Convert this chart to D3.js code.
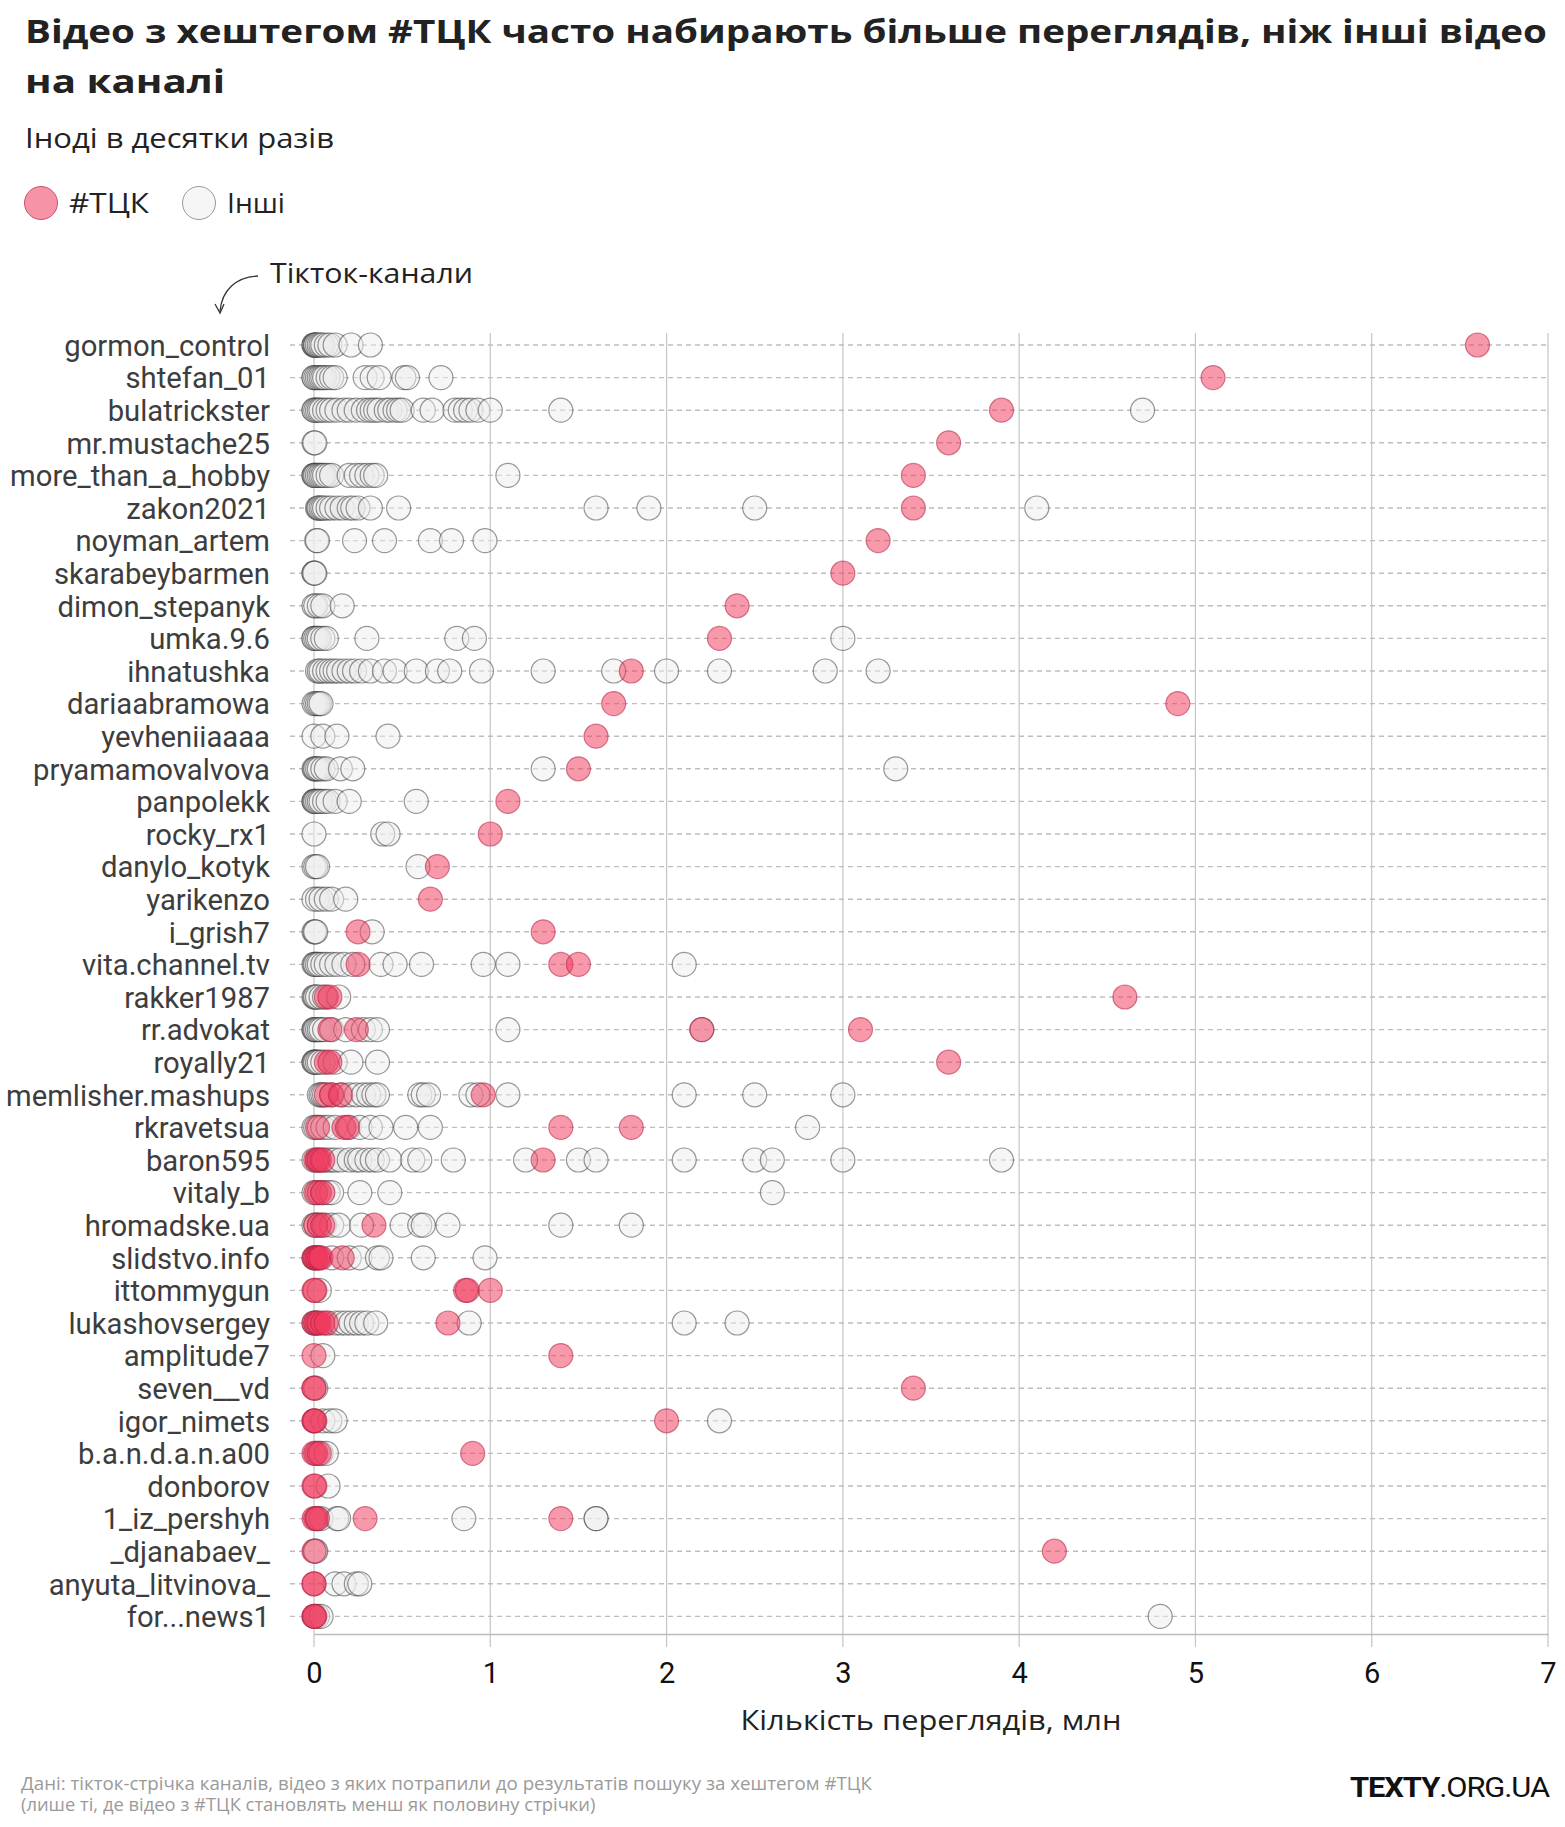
<!DOCTYPE html>
<html>
<head>
<meta charset="utf-8">
<script src="https://cdn.jsdelivr.net/npm/d3@7"></script>
<style>
  html, body { margin: 0; padding: 0; background: #fff; }
  svg { display: block; font-family: Roboto, "Open Sans", sans-serif; }
</style>
</head>
<body>
<svg id="chart" width="1565" height="1827"></svg>
<script>
// ---------- DATA ----------
const channels = [
  "gormon_control", "shtefan_01", "bulatrickster", "mr.mustache25", "more_than_a_hobby",
  "zakon2021", "noyman_artem", "skarabeybarmen", "dimon_stepanyk", "umka.9.6",
  "ihnatushka", "dariaabramowa", "yevheniiaaaa", "pryamamovalvova", "panpolekk",
  "rocky_rx1", "danylo_kotyk", "yarikenzo", "i_grish7", "vita.channel.tv",
  "rakker1987", "rr.advokat", "royally21", "memlisher.mashups", "rkravetsua",
  "baron595", "vitaly_b", "hromadske.ua", "slidstvo.info", "ittommygun",
  "lukashovsergey", "amplitude7", "seven__vd", "igor_nimets", "b.a.n.d.a.n.a00",
  "donborov", "1_iz_pershyh", "_djanabaev_", "anyuta_litvinova_", "for...news1"
];

// views (millions) of videos WITHOUT the #ТЦК hashtag, per channel
const otherViews = [
  [0, 0, 0.005, 0.01, 0.01, 0.02, 0.03, 0.04, 0.05, 0.07, 0.09, 0.12, 0.21, 0.32],
  [0, 0, 0.01, 0.02, 0.03, 0.04, 0.05, 0.06, 0.08, 0.1, 0.12, 0.29, 0.33, 0.37, 0.51, 0.53, 0.72],
  [0, 0, 0.01, 0.02, 0.03, 0.04, 0.06, 0.08, 0.1, 0.13, 0.17, 0.2, 0.24, 0.28, 0.31, 0.33, 0.35, 0.37, 0.41, 0.43, 0.46, 0.48, 0.5, 0.62, 0.67, 0.8, 0.83, 0.86, 0.89, 0.93, 1.0, 1.4, 4.7],
  [0, 0.005],
  [0, 0, 0.005, 0.01, 0.02, 0.03, 0.04, 0.05, 0.06, 0.08, 0.1, 0.2, 0.24, 0.27, 0.3, 0.33, 0.35, 1.1],
  [0.02, 0.025, 0.03, 0.04, 0.05, 0.06, 0.08, 0.1, 0.13, 0.16, 0.2, 0.22, 0.25, 0.32, 0.48, 1.6, 1.9, 2.5, 4.1],
  [0.015, 0.02, 0.23, 0.4, 0.66, 0.78, 0.97],
  [0, 0, 0.005],
  [0, 0.01, 0.03, 0.05, 0.16],
  [0, 0, 0.01, 0.02, 0.03, 0.05, 0.07, 0.3, 0.81, 0.91, 3.0],
  [0.02, 0.03, 0.04, 0.06, 0.08, 0.1, 0.12, 0.14, 0.17, 0.2, 0.23, 0.27, 0.32, 0.4, 0.46, 0.58, 0.7, 0.77, 0.95, 1.3, 1.7, 2.0, 2.3, 2.9, 3.2],
  [0, 0.01, 0.02, 0.03, 0.04],
  [0, 0.05, 0.13, 0.42],
  [0, 0.005, 0.01, 0.02, 0.03, 0.05, 0.07, 0.15, 0.22, 1.3, 3.3],
  [0, 0, 0.005, 0.01, 0.02, 0.03, 0.04, 0.06, 0.08, 0.12, 0.2, 0.58],
  [0, 0.39, 0.42],
  [0, 0.01, 0.02, 0.59],
  [0, 0.02, 0.04, 0.07, 0.1, 0.18],
  [0, 0.005, 0.01, 0.33],
  [0, 0.005, 0.01, 0.02, 0.03, 0.05, 0.07, 0.1, 0.13, 0.17, 0.22, 0.38, 0.46, 0.61, 0.96, 1.1, 2.1],
  [0, 0.005, 0.01, 0.02, 0.04, 0.06, 0.14],
  [0, 0, 0.005, 0.01, 0.02, 0.03, 0.04, 0.06, 0.1, 0.18, 0.28, 0.32, 0.36, 1.1, 2.2],
  [0, 0, 0.005, 0.01, 0.02, 0.03, 0.05, 0.12, 0.21, 0.36],
  [0.03, 0.04, 0.05, 0.06, 0.1, 0.16, 0.2, 0.24, 0.28, 0.31, 0.34, 0.36, 0.6, 0.62, 0.65, 0.89, 0.93, 1.1, 2.1, 2.5, 3.0],
  [0, 0.01, 0.03, 0.05, 0.08, 0.12, 0.2, 0.26, 0.32, 0.38, 0.52, 0.66, 2.8],
  [0, 0.02, 0.04, 0.06, 0.08, 0.1, 0.12, 0.15, 0.2, 0.24, 0.26, 0.3, 0.33, 0.36, 0.43, 0.56, 0.6, 0.79, 1.2, 1.5, 1.6, 2.1, 2.5, 2.6, 3.0, 3.9],
  [0, 0.02, 0.05, 0.08, 0.1, 0.26, 0.43, 2.6],
  [0, 0.01, 0.03, 0.06, 0.1, 0.14, 0.27, 0.5, 0.6, 0.62, 0.76, 1.4, 1.8],
  [0, 0.02, 0.1, 0.2, 0.26, 0.36, 0.38, 0.62, 0.97],
  [0.03],
  [0, 0.01, 0.08, 0.12, 0.15, 0.18, 0.21, 0.24, 0.27, 0.3, 0.35, 0.88, 2.1, 2.4],
  [0.05],
  [0.01],
  [0.05, 0.09, 0.12, 2.3],
  [0.02, 0.04, 0.07],
  [0.08],
  [0.02, 0.04, 0.13, 0.14, 0.85, 1.6, 1.6],
  [0.005, 0.01],
  [0.12, 0.17, 0.24, 0.26],
  [0.02, 0.04, 4.8]
];

// views (millions) of videos WITH the #ТЦК hashtag, per channel
const tckViews = [
  [6.6], [5.1], [3.9], [3.6], [3.4],
  [3.4], [3.2], [3.0], [2.4], [2.3],
  [1.8], [1.7, 4.9], [1.6], [1.5], [1.1],
  [1.0], [0.7], [0.66], [0.25, 1.3], [0.25, 1.4, 1.5],
  [0.07, 0.09, 4.6], [0.09, 0.24, 2.2, 3.1], [0.07, 0.09, 3.6], [0.07, 0.1, 0.15, 0.96], [0.02, 0.17, 0.19, 1.4, 1.8],
  [0.01, 0.02, 0.03, 0.05, 1.3], [0.01, 0.03, 0.05], [0.01, 0.03, 0.05, 0.34], [0, 0.005, 0.01, 0.02, 0.03, 0.04, 0.16], [0, 0.005, 0.86, 0.87, 1.0],
  [0, 0.01, 0.02, 0.03, 0.05, 0.07, 0.76], [0, 1.4], [0, 0, 3.4], [0, 0, 0.005, 2.0], [0, 0.01, 0.03, 0.9],
  [0, 0.005], [0, 0.01, 0.02, 0.29, 1.4], [0, 4.2], [0, 0], [0, 0, 0.005]
];

const xTicks = [0, 1, 2, 3, 4, 5, 6, 7];

const titleLines = ["Відео з хештегом #ТЦК часто набирають більше переглядів, ніж інші відео", "на каналі"];
const subtitle = "Іноді в десятки разів";
const legendLabels = ["#ТЦК", "Інші"];
const yAxisNote = "Тікток-канали";
const xAxisTitle = "Кількість переглядів, млн";
const sourceLines = ["Дані: тікток-стрічка каналів, відео з яких потрапили до результатів пошуку за хештегом #ТЦК",
                     "(лише ті, де відео з #ТЦК становлять менш як половину стрічки)"];

// ---------- DRAW ----------
const svg = d3.select("#chart");
const x = d3.scaleLinear().domain([0, 7]).range([314, 1548]);
const y = d3.scalePoint().domain(channels).range([345, 345 + 39 * 32.6]);
const R = 12;
const BODY = "'Open Sans', Roboto, sans-serif";

// fit a text to a target width by font size; above maxFs, stretch
function fitWidth(sel, target, maxFs, adjust) {
  const w = sel.node().getComputedTextLength();
  let fs = parseFloat(sel.attr("font-size")) * target / w;
  if (maxFs && fs > maxFs) {
    sel.attr("font-size", maxFs);
    sel.attr("textLength", target).attr("lengthAdjust", adjust || "spacingAndGlyphs");
  } else {
    sel.attr("font-size", fs);
  }
}

// Title
const t1 = svg.append("text").attr("x", 25).attr("y", 43).attr("font-size", 32)
  .attr("font-family", BODY).attr("font-weight", 700).attr("fill", "#222").text(titleLines[0]);
fitWidth(t1, 1522, 33);
const t1fs = parseFloat(t1.attr("font-size"));
const t2 = svg.append("text").attr("x", 25).attr("y", 93).attr("font-size", t1fs)
  .attr("font-family", BODY).attr("font-weight", 700).attr("fill", "#222").text(titleLines[1]);
fitWidth(t2, 200, 33);

// Subtitle
const st = svg.append("text").attr("x", 25).attr("y", 148).attr("font-size", 24)
  .attr("font-family", BODY).attr("fill", "#222").text(subtitle);
fitWidth(st, 309, 27);

// Legend
const legend = svg.append("g");
legend.append("circle").attr("cx", 41).attr("cy", 203).attr("r", 16.5)
  .attr("fill", "#f793a7").attr("stroke", "#d2506f").attr("stroke-width", 1);
const l1 = legend.append("text").attr("x", 69).attr("y", 213).attr("font-size", 26)
  .attr("font-family", BODY).attr("fill", "#222").text(legendLabels[0]);
fitWidth(l1, 80, 28);
legend.append("circle").attr("cx", 199).attr("cy", 203).attr("r", 16.5)
  .attr("fill", "#f6f6f6").attr("stroke", "#999").attr("stroke-width", 1);
const l2 = legend.append("text").attr("x", 227).attr("y", 213).attr("font-size", 26)
  .attr("font-family", BODY).attr("fill", "#222").text(legendLabels[1]);
fitWidth(l2, 58, 28);

// Axis note with arrow
const note = svg.append("text").attr("x", 270).attr("y", 283).attr("font-size", 26)
  .attr("font-family", BODY).attr("fill", "#222").text(yAxisNote);
fitWidth(note, 203, 28);
svg.append("path").attr("d", "M258,276 C236,277 222,290 220,311")
  .attr("fill", "none").attr("stroke", "#333").attr("stroke-width", 1.3);
svg.append("path").attr("d", "M215,304 L220,313 L224,304")
  .attr("fill", "none").attr("stroke", "#333").attr("stroke-width", 1.3);

// Vertical grid lines
svg.append("g").selectAll("line").data(xTicks).join("line")
  .attr("x1", d => x(d)).attr("x2", d => x(d))
  .attr("y1", 333).attr("y2", 1647)
  .attr("stroke", "#c4c4c4").attr("stroke-width", 1.2);

// Row dashed lines
svg.append("g").selectAll("line").data(channels).join("line")
  .attr("x1", 290).attr("x2", x(7))
  .attr("y1", d => y(d)).attr("y2", d => y(d))
  .attr("stroke", "#bdbdbd").attr("stroke-width", 1.4)
  .attr("stroke-dasharray", "5,4");

// X axis
const xAxis = d3.axisBottom(x).tickValues(xTicks).tickSize(0).tickPadding(0).tickFormat(d3.format("d"));
const gx = svg.append("g").attr("transform", "translate(0,1634)").call(xAxis);
gx.select(".domain").attr("stroke", "#bbb").attr("stroke-width", 1.5);
gx.selectAll(".tick text").attr("font-size", 29).attr("fill", "#111")
  .attr("font-family", "Roboto, sans-serif").attr("dy", 0).attr("y", 49);

svg.append("text").attr("x", x(3.5)).attr("y", 1730).attr("text-anchor", "middle")
  .attr("font-size", 26).attr("font-family", BODY).attr("fill", "#222").text(xAxisTitle)
  .call(s => fitWidth(s, 381, 28));

// Y labels
const yAxis = d3.axisLeft(y).tickSize(0).tickPadding(0);
const gy = svg.append("g").attr("transform", "translate(270,0)").call(yAxis);
gy.select(".domain").remove();
gy.selectAll(".tick text").attr("font-size", 24).attr("fill", "#3d3d3d")
  .attr("font-family", "Roboto, sans-serif").attr("dy", "0.35em");
// scale labels so that the widest one matches the reference width (more_than_a_hobby: ~265px)
let maxW = 0;
gy.selectAll(".tick text").each(function () { maxW = Math.max(maxW, this.getComputedTextLength()); });
const labFs = 24 * 264 / maxW;
gy.selectAll(".tick text").attr("font-size", labFs);

// Points
const others = [];
otherViews.forEach((arr, i) => arr.forEach(v => others.push({ c: channels[i], v })));
const tck = [];
tckViews.forEach((arr, i) => arr.forEach(v => tck.push({ c: channels[i], v })));

svg.append("g").selectAll("circle").data(others).join("circle")
  .attr("cx", d => x(d.v)).attr("cy", d => y(d.c)).attr("r", R)
  .attr("fill", "#ededed").attr("fill-opacity", 0.5)
  .attr("stroke", "#333").attr("stroke-opacity", 0.5).attr("stroke-width", 1.2);

svg.append("g").selectAll("circle").data(tck).join("circle")
  .attr("cx", d => x(d.v)).attr("cy", d => y(d.c)).attr("r", R)
  .attr("fill", "#f0395e").attr("fill-opacity", 0.52)
  .attr("stroke", "#b0203f").attr("stroke-opacity", 0.55).attr("stroke-width", 1.2);

// Source
sourceLines.forEach((s, i) => {
  const t = svg.append("text").attr("x", 21).attr("y", 1790 + i * 21).attr("font-size", 16)
    .attr("font-family", BODY).attr("fill", "#9a9a9a").text(s);
  if (i === 0) fitWidth(t, 851, 18);
  else fitWidth(t, 851 * 0.675, 18);
});

// Brand
const brand = svg.append("text").attr("x", 1549).attr("y", 1797).attr("text-anchor", "end")
  .attr("font-size", 28).attr("fill", "#111").attr("letter-spacing", -1);
brand.append("tspan").attr("font-weight", 700).text("TEXTY");
brand.append("tspan").attr("font-weight", 400).text(".ORG.UA");
fitWidth(brand, 199, 28);
</script>
</body>
</html>
